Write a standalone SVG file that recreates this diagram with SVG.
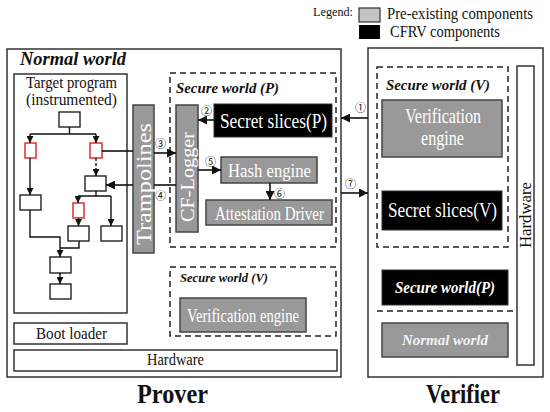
<svg xmlns="http://www.w3.org/2000/svg" width="550" height="412" viewBox="0 0 550 412">
<defs>
<style>
text{font-family:"Liberation Serif","DejaVu Serif",serif;fill:#111}
.num{font-family:"Noto Sans CJK JP","DejaVu Sans",sans-serif;font-size:11px}
.box{fill:#fff;stroke:#333;stroke-width:1.5}
.gray{fill:#999;stroke:#444;stroke-width:1.5}
.blk{fill:#000;stroke:#333;stroke-width:1}
.dash{fill:none;stroke:#222;stroke-width:1.5;stroke-dasharray:6,4}
.ln{fill:none;stroke:#111;stroke-width:1.6}
.fl{fill:#fff;stroke:#222;stroke-width:1.4}
.red{fill:#fff;stroke:#d22;stroke-width:1.4}
.w{fill:#fff}
.bi{font-weight:bold;font-style:italic}
</style>
<marker id="ah" viewBox="0 0 10 10" refX="10" refY="5" markerWidth="9" markerHeight="9" markerUnits="userSpaceOnUse" orient="auto"><path d="M0,0 L10,5 L0,10 z" fill="#111"/></marker>
<marker id="sh" viewBox="0 0 10 10" refX="10" refY="5" markerWidth="7" markerHeight="7" markerUnits="userSpaceOnUse" orient="auto"><path d="M0,0 L10,5 L0,10 z" fill="#111"/></marker>
</defs>

<g id="legend">
<text x="313" y="16" font-size="13" textLength="40" lengthAdjust="spacingAndGlyphs">Legend:</text>
<rect x="359" y="8" width="21" height="14" fill="#c4c4c4" stroke="#333" stroke-width="1.2"/>
<rect x="359" y="25" width="21" height="14" fill="#000"/>
<text x="387" y="19" font-size="16" textLength="146" lengthAdjust="spacingAndGlyphs">Pre-existing components</text>
<text x="390" y="37" font-size="16" textLength="110" lengthAdjust="spacingAndGlyphs">CFRV components</text>
</g>

<g id="prover">
<rect class="box" x="7" y="49" width="334" height="328"/>
<text class="bi" x="20" y="65" font-size="19" textLength="106" lengthAdjust="spacingAndGlyphs">Normal world</text>
<text x="137" y="403" font-size="28" font-weight="bold" textLength="71" lengthAdjust="spacingAndGlyphs">Prover</text>
</g>

<g id="target-program">
<rect class="box" x="14" y="74" width="113" height="239"/>
<text x="26" y="88" font-size="16" textLength="91" lengthAdjust="spacingAndGlyphs">Target program</text>
<text x="26" y="105" font-size="16" textLength="91" lengthAdjust="spacingAndGlyphs">(instrumented)</text>
<rect class="fl" x="59" y="112" width="21" height="15"/>
<rect class="red" x="25" y="143" width="11" height="15"/>
<rect class="red" x="90" y="143" width="12" height="15"/>
<rect class="fl" x="20" y="195" width="21" height="15"/>
<rect class="fl" x="85" y="176" width="21" height="15"/>
<rect class="red" x="73" y="203" width="11" height="15"/>
<rect class="fl" x="68" y="226" width="21" height="15"/>
<rect class="fl" x="101" y="226" width="21" height="15"/>
<rect class="fl" x="50" y="257" width="21" height="16"/>
<rect class="fl" x="50" y="284" width="21" height="15"/>
<g stroke="#111" stroke-width="1.4" fill="none">
<path d="M69.5,127 V134 M30,134 H96"/>
<path d="M30,134 V143" marker-end="url(#sh)"/>
<path d="M96,134 V143" marker-end="url(#sh)"/>
<path d="M30,158 V195" marker-end="url(#sh)"/>
<path d="M96,158 V176" stroke-dasharray="3,2" marker-end="url(#sh)"/>
<path d="M96,191 V196 M78,196 H111"/>
<path d="M78,196 V203" marker-end="url(#sh)"/>
<path d="M111,196 V226" marker-end="url(#sh)"/>
<path d="M78.5,218 V226" marker-end="url(#sh)"/>
<path d="M30,210 V237 H60 V257" marker-end="url(#sh)"/>
<path d="M79,241 V248 H60"/>
<path d="M60,273 V284" marker-end="url(#sh)"/>
</g>
</g>

<g id="boot-loader">
<rect class="box" x="14" y="323" width="113" height="21"/>
<text x="36" y="339" font-size="16" textLength="71" lengthAdjust="spacingAndGlyphs">Boot loader</text>
</g>
<g id="hardware-p">
<rect class="box" x="14" y="350" width="323" height="21"/>
<text x="147" y="365" font-size="16" textLength="57" lengthAdjust="spacingAndGlyphs">Hardware</text>
</g>

<g id="trampolines">
<rect class="gray" x="133" y="105" width="21" height="148"/>
<text class="w" transform="translate(151,245) rotate(-90)" font-size="20" textLength="122" lengthAdjust="spacingAndGlyphs">Trampolines</text>
</g>

<g id="secure-world-p">
<rect class="dash" x="170" y="73" width="166" height="174"/>
<text class="bi" x="176" y="93" font-size="15" textLength="103" lengthAdjust="spacingAndGlyphs">Secure world (P)</text>
</g>
<g id="cf-logger">
<rect class="gray" x="176" y="105" width="22" height="127"/>
<text class="w" transform="translate(194,222) rotate(-90)" font-size="19" textLength="90" lengthAdjust="spacingAndGlyphs">CF-Logger</text>
</g>
<g id="secret-slices-p">
<rect class="blk" x="214" y="104" width="118" height="33"/>
<text class="w" x="220" y="128" font-size="21" textLength="107" lengthAdjust="spacingAndGlyphs">Secret slices(P)</text>
</g>
<g id="hash-engine">
<rect class="gray" x="221" y="157" width="96" height="26"/>
<text class="w" x="228" y="177" font-size="18" textLength="83" lengthAdjust="spacingAndGlyphs">Hash engine</text>
</g>
<g id="attestation-driver">
<rect class="gray" x="206" y="200" width="126" height="25"/>
<text class="w" x="215" y="220" font-size="18" textLength="109" lengthAdjust="spacingAndGlyphs">Attestation Driver</text>
</g>

<g id="secure-world-v-p">
<rect class="dash" x="170" y="267" width="166" height="69"/>
<text class="bi" x="180" y="282" font-size="13" textLength="88" lengthAdjust="spacingAndGlyphs">Secure world (V)</text>
</g>
<g id="verification-engine-p">
<rect class="gray" x="180" y="298" width="126" height="34"/>
<text class="w" x="187" y="322" font-size="18" textLength="112" lengthAdjust="spacingAndGlyphs">Verification engine</text>
</g>

<g id="verifier">
<rect class="box" x="368" y="48" width="175" height="329"/>
<text x="426" y="403" font-size="28" font-weight="bold" textLength="74" lengthAdjust="spacingAndGlyphs">Verifier</text>
</g>
<g id="secure-world-v">
<rect class="dash" x="377" y="67" width="131" height="180"/>
<text class="bi" x="386" y="90" font-size="15" textLength="104" lengthAdjust="spacingAndGlyphs">Secure world (V)</text>
</g>
<g id="verification-engine-v">
<rect class="gray" x="382" y="100" width="120" height="57"/>
<text class="w" x="405" y="123" font-size="21" textLength="76" lengthAdjust="spacingAndGlyphs">Verification</text>
<text class="w" x="421" y="145" font-size="21" textLength="43" lengthAdjust="spacingAndGlyphs">engine</text>
</g>
<g id="secret-slices-v">
<rect class="blk" x="382" y="191" width="120" height="39"/>
<text class="w" x="388" y="217" font-size="20" textLength="109" lengthAdjust="spacingAndGlyphs">Secret slices(V)</text>
</g>
<g id="hardware-v">
<rect class="box" x="517" y="66" width="17" height="299"/>
<text transform="translate(531,248) rotate(-90)" font-size="16" textLength="66" lengthAdjust="spacingAndGlyphs">Hardware</text>
</g>
<g id="secure-world-p-v">
<rect class="blk" x="382" y="270" width="126" height="35"/>
<text class="w bi" x="395" y="293" font-size="16" textLength="100" lengthAdjust="spacingAndGlyphs">Secure world(P)</text>
</g>
<line class="dash" x1="377" y1="311" x2="517" y2="311"/>
<g id="normal-world-v">
<rect class="gray" x="382" y="323" width="126" height="34"/>
<text class="w bi" x="402" y="345" font-size="15" textLength="86" lengthAdjust="spacingAndGlyphs" fill-opacity="0.9">Normal world</text>
</g>

<g id="connectors">
<path class="ln" d="M102,151 H133"/>
<path class="ln" d="M133,185 H106" marker-end="url(#ah)"/>
<path class="ln" d="M154,153 H176" marker-end="url(#ah)"/>
<path class="ln" d="M176,185 H154"/>
<path class="ln" d="M214,120 H198" marker-end="url(#ah)"/>
<path class="ln" d="M198,170 H221" marker-end="url(#ah)"/>
<path class="ln" d="M270,183 V200" marker-end="url(#ah)"/>
<path class="ln" d="M368,118 H341" marker-end="url(#ah)"/>
<path class="ln" d="M341,193 H368" marker-end="url(#ah)"/>
<text class="num" x="155" y="148">③</text>
<text class="num" x="155" y="200">④</text>
<text class="num" x="201" y="115">②</text>
<text class="num" x="205" y="166">⑤</text>
<text class="num" x="274" y="198">⑥</text>
<text class="num" x="355" y="112">①</text>
<text class="num" x="345" y="188">⑦</text>
</g>
</svg>
